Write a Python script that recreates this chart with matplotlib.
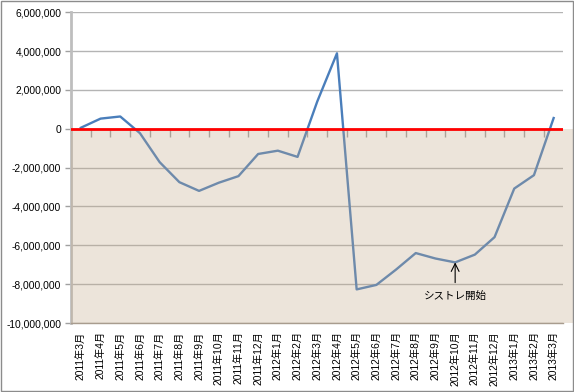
import matplotlib
matplotlib.use('Agg')
import matplotlib.pyplot as plt
import matplotlib.patches as mpatches
from matplotlib.ticker import FuncFormatter

plt.rcParams['font.family'] = ['Liberation Sans', 'Noto Sans CJK JP', 'DejaVu Sans']

months = ['2011年3月', '2011年4月', '2011年5月', '2011年6月', '2011年7月', '2011年8月',
          '2011年9月', '2011年10月', '2011年11月', '2011年12月', '2012年1月', '2012年2月',
          '2012年3月', '2012年4月', '2012年5月', '2012年6月', '2012年7月', '2012年8月',
          '2012年9月', '2012年10月', '2012年11月', '2012年12月', '2013年1月', '2013年2月',
          '2013年3月']
balance = [50000, 520000, 630000, -230000, -1720000, -2750000,
           -3200000, -2780000, -2440000, -1300000, -1130000, -1450000,
           1400000, 3880000, -8270000, -8040000, -7250000, -6400000,
           -6680000, -6880000, -6480000, -5580000, -3080000, -2390000,
           550000]
yticks = list(range(-10000000, 6000001, 2000000))
note_month = '2012年10月'
note_text = 'シストレ開始'

fig = plt.figure(figsize=(5.74, 3.92), dpi=100)
ax = fig.add_axes([0.1237, 0.176, 0.858, 0.793])

x = list(range(len(months)))
ax.plot(x, balance, color='#4A7EBB', lw=1.7, zorder=3, solid_joinstyle='round')

ax.set_xlim(-0.5, len(months) - 0.5)
ax.set_ylim(yticks[0], yticks[-1])
ax.set_yticks(yticks)
ax.yaxis.set_major_formatter(FuncFormatter(lambda v, p: f'{int(v):,}'))
ax.grid(axis='y', color='#B4B4B4', lw=1.0, zorder=1)
ax.set_axisbelow(True)

# beige area below zero, drawn translucent on top of the line
shade = mpatches.Rectangle((-0.5, yticks[0]), len(months) + 0.46, -yticks[0],
                           facecolor=(195/255, 168/255, 135/255), alpha=0.3,
                           edgecolor='none', zorder=4, clip_on=False)
ax.add_patch(shade)

# red zero line
ax.axhline(0, color='red', lw=2, zorder=6)

ax.set_xticks(x)
ax.set_xticklabels(months, rotation=90, fontsize=7.4)
ax.tick_params(axis='x', length=0, pad=6)
ax.tick_params(axis='y', labelsize=7.4, length=4, color='#A0A0A0', width=1, pad=3)

for s in ['top', 'right']:
    ax.spines[s].set_visible(False)
ax.spines['left'].set_color('#BEBEBE')
ax.spines['left'].set_linewidth(2)
ax.spines['bottom'].set_color('#A89C8E')
ax.spines['bottom'].set_linewidth(1)

# category boundary ticks hanging from the zero line
zero_pos = (0 - yticks[0]) / (yticks[-1] - yticks[0])
sec = ax.secondary_xaxis(zero_pos)
sec.set_xticks([i + 0.5 for i in x[:-1]])
sec.set_xticklabels([])
sec.xaxis.set_ticks_position('top')
sec.tick_params(length=5.5, color='#A0A0A0', width=1, direction='in')
for s in sec.spines.values():
    s.set_visible(False)

i = months.index(note_month)
ax.annotate(note_text, xy=(i, balance[i]), xytext=(i, balance[i] - 1800000),
            ha='center', va='center', fontsize=7.6,
            family=['Noto Sans CJK JP', 'DejaVu Sans'], zorder=7,
            arrowprops=dict(arrowstyle='->', color='black', lw=0.8,
                            shrinkA=5, shrinkB=0, mutation_scale=14))

fig.patches.append(mpatches.Rectangle((0.001, 0.003), 0.997, 0.995, transform=fig.transFigure,
                                      fill=False, edgecolor='#8C8C8C', lw=1))

fig.savefig('out.png', dpi=100)
